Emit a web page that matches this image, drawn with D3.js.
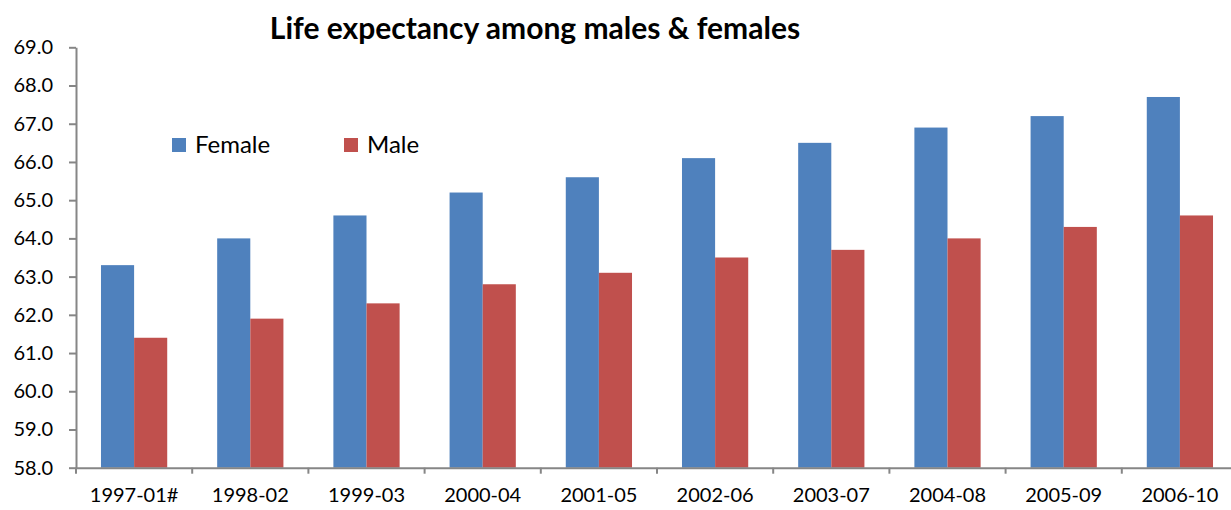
<!DOCTYPE html>
<html>
<head>
<meta charset="utf-8">
<script src="https://cdn.jsdelivr.net/npm/d3@7"></script>
<style>
  body { margin: 0; background: #fff; }
  text { font-family: Lato, "Open Sans", sans-serif; fill: #000; }
</style>
</head>
<body>
<div class="canvas"></div>
<script>
var width = 1231,
    height = 510;

var periods = ["1997-01#", "1998-02", "1999-03", "2000-04", "2001-05",
               "2002-06", "2003-07", "2004-08", "2005-09", "2006-10"];
var female = [63.3, 64.0, 64.6, 65.2, 65.6, 66.1, 66.5, 66.9, 67.2, 67.7];
var male = [61.4, 61.9, 62.3, 62.8, 63.1, 63.5, 63.7, 64.0, 64.3, 64.6];
var seriesNames = ["Female", "Male"];
var colors = ["#4F81BD", "#C0504D"];
var yTicks = [58, 59, 60, 61, 62, 63, 64, 65, 66, 67, 68, 69];

var svg = d3.select(".canvas").append("svg")
    .attr("width", width)
    .attr("height", height);

var plotLeft = 76, plotRight = 1238, plotTop = 47.3, plotBottom = 467.7;

var x0 = d3.scaleBand()
    .domain(periods)
    .range([plotLeft, plotRight])
    .paddingInner(0.43)
    .paddingOuter(0.215);

var x1 = d3.scaleBand()
    .domain(seriesNames)
    .range([0, x0.bandwidth()]);

var y = d3.scaleLinear()
    .domain([58, 69])
    .range([plotBottom, plotTop]);

// bars
var rows = periods.map(function(p, i) {
    return { period: p, values: [female[i], male[i]] };
});

var groups = svg.append("g").selectAll("g")
    .data(rows)
    .enter().append("g")
    .attr("transform", function(d) { return "translate(" + x0(d.period) + ",0)"; });

groups.selectAll("rect")
    .data(function(d) { return d.values.map(function(v, k) { return { name: seriesNames[k], value: v, k: k }; }); })
    .enter().append("rect")
    .attr("x", function(d) { return x1(d.name); })
    .attr("y", function(d) { return y(d.value); })
    .attr("width", x1.bandwidth())
    .attr("height", function(d) { return y(58) - y(d.value); })
    .style("fill", function(d) { return colors[d.k]; });

// y axis
var yAxis = d3.axisLeft(y)
    .tickValues(yTicks)
    .tickFormat(d3.format(".1f"))
    .tickSizeInner(7)
    .tickSizeOuter(0)
    .tickPadding(16);

var gy = svg.append("g")
    .attr("transform", "translate(" + plotLeft + ",0)")
    .call(yAxis);
gy.select(".domain").attr("stroke", "#868686").attr("stroke-width", 2);
gy.selectAll(".tick line").attr("stroke", "#868686").attr("stroke-width", 2);
gy.selectAll(".tick text").style("font-size", "20px");

// x axis
var xAxis = d3.axisBottom(x0)
    .tickSize(0)
    .tickPadding(20);

var gx = svg.append("g")
    .attr("transform", "translate(0," + plotBottom + ")")
    .call(xAxis);
gx.select(".domain").attr("stroke", "#868686").attr("stroke-width", 2);
gx.selectAll(".tick text").style("font-size", "20px");

// category dividers under the axis
var step = x0.step();
svg.append("g").selectAll("line")
    .data(periods)
    .enter().append("line")
    .attr("x1", function(d) { return x0(d) - x0.paddingOuter() * step; })
    .attr("x2", function(d) { return x0(d) - x0.paddingOuter() * step; })
    .attr("y1", plotBottom)
    .attr("y2", plotBottom + 6)
    .attr("stroke", "#868686")
    .attr("stroke-width", 2);

// title
svg.append("text")
    .attr("x", 535)
    .attr("y", 39)
    .attr("text-anchor", "middle")
    .style("font-size", "30px")
    .style("font-weight", "bold")
    .text("Life expectancy among males & females");

// legend
var legend = svg.append("g").selectAll("g")
    .data(seriesNames)
    .enter().append("g")
    .attr("transform", function(d, i) { return "translate(" + (172 + i * 172) + ",138)"; });

legend.append("rect")
    .attr("width", 14)
    .attr("height", 14)
    .style("fill", function(d, i) { return colors[i]; });

legend.append("text")
    .attr("x", 23)
    .attr("y", 15)
    .style("font-size", "24px")
    .text(function(d) { return d; });
</script>
</body>
</html>
